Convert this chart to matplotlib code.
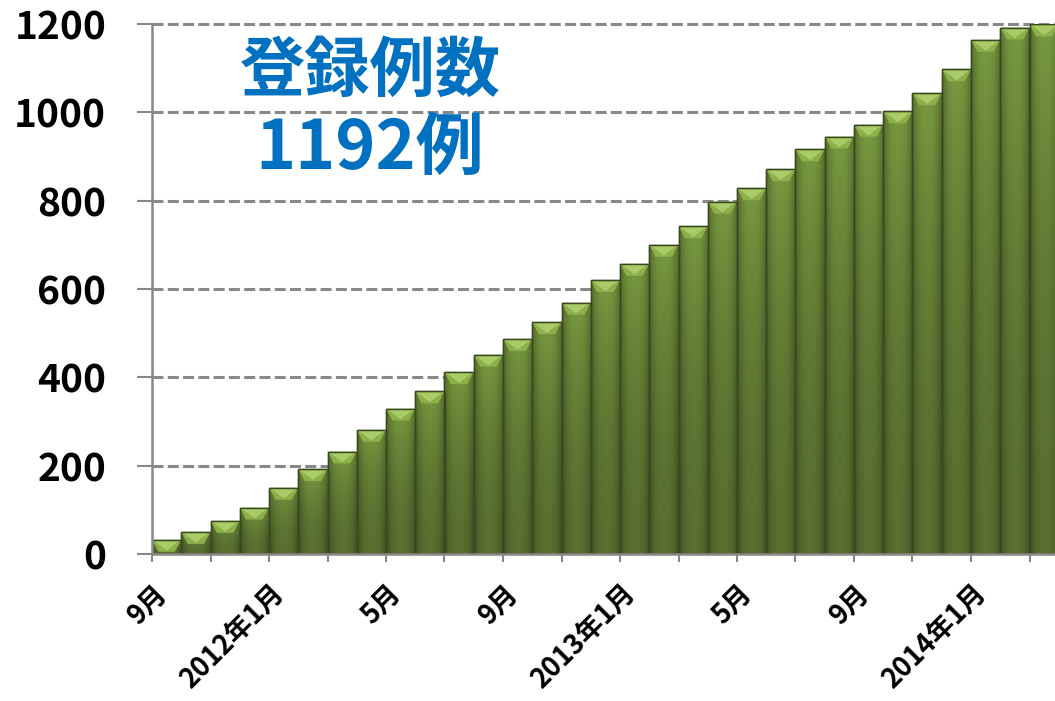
import numpy as np
import matplotlib
matplotlib.use('Agg')
import matplotlib.pyplot as plt
import matplotlib.transforms as mtransforms
from matplotlib.patches import Polygon

plt.rcParams['font.family'] = ['Noto Sans CJK JP', 'DejaVu Sans']

# 登録例数（月毎の累計） 2011年9月〜2014年3月
months = ['2011-09', '2011-10', '2011-11', '2011-12',
          '2012-01', '2012-02', '2012-03', '2012-04', '2012-05', '2012-06',
          '2012-07', '2012-08', '2012-09', '2012-10', '2012-11', '2012-12',
          '2013-01', '2013-02', '2013-03', '2013-04', '2013-05', '2013-06',
          '2013-07', '2013-08', '2013-09', '2013-10', '2013-11', '2013-12',
          '2014-01', '2014-02', '2014-03']
counts = [32, 50, 75, 105, 150, 192, 232, 281, 329, 368, 412, 451, 487,
          525, 569, 620, 657, 700, 742, 798, 828, 871, 916, 945, 972,
          1002, 1043, 1097, 1164, 1192, 1199]
label_idx = [0, 4, 8, 12, 16, 20, 24, 28]
label_txt = ['9月', '2012年1月', '5月', '9月', '2013年1月', '5月', '9月', '2014年1月']
yticks = [0, 200, 400, 600, 800, 1000, 1200]

fig = plt.figure(figsize=(10.55, 7.01), dpi=100)
ax = fig.add_axes([152 / 1055, 1 - 554 / 701, (1055 - 152) / 1055, (554 - 24) / 701])

x = np.arange(len(counts))
bars = ax.bar(x, counts, width=1.0, color='#5b7330', edgecolor='#3f4f24',
              linewidth=1.0, zorder=3)

# 立体風のグラデーション
nx, ny = 40, 64
u = np.linspace(-1, 1, nx)
v = np.linspace(0, 1, ny)[:, None]
side = 1 - 0.3 * np.abs(u) ** 2.5
base = np.array([0.35, 0.44, 0.19])
top = np.array([0.47, 0.60, 0.25])
for b in bars:
    bx, bw, bh = b.get_x(), b.get_width(), b.get_height()
    col = base + (top - base) * v[..., None] ** 2
    img = col * side[None, :, None]
    im = ax.imshow(np.clip(img, 0, 1), extent=(bx, bx + bw, 0, bh),
                   origin='lower', aspect='auto', zorder=3.1,
                   interpolation='bilinear')
    im.set_clip_path(b)
    bev = 27
    ax.add_patch(Polygon([(bx, bh), (bx + bw, bh), (bx + bw * 0.78, bh - bev),
                          (bx + bw * 0.22, bh - bev)],
                         closed=True, facecolor='#8db04a', edgecolor='none',
                         zorder=3.2))
    ax.add_patch(Polygon([(bx + 0.08, bh - 3), (bx + bw - 0.08, bh - 3),
                          (bx + bw / 2, bh - bev * 0.9)],
                         closed=True, facecolor='#a9cb68', edgecolor='none',
                         zorder=3.3))
    ax.add_patch(plt.Rectangle((bx, 0), bw, bh, facecolor='none',
                               edgecolor='#3a4822', linewidth=1.0, zorder=3.4))

ax.set_xlim(-0.5, -0.5 + 903 / 29.25)
ax.set_ylim(0, 1200)

ax.set_yticks(yticks)
ax.set_yticklabels([str(t) for t in yticks], fontsize=28, fontweight='bold')
ax.tick_params(axis='y', length=11, width=1.5, color='#888888', pad=22)

ax.set_xticks(np.arange(-0.5, len(counts), 2))
ax.set_xticklabels([])
ax.set_xticks(label_idx, minor=True)
ax.set_xticklabels(label_txt, minor=True, rotation=45, ha='right', va='top',
                   fontsize=19.5, fontweight='bold')
ax.tick_params(axis='x', which='major', length=6, width=1.5, color='#888888')
ax.tick_params(axis='x', which='minor', length=0, pad=18)
offset = mtransforms.ScaledTranslation(6 / 100, 0, fig.dpi_scale_trans)
for lab in ax.get_xticklabels(minor=True):
    lab.set_transform(lab.get_transform() + offset)

for s in ['top', 'right']:
    ax.spines[s].set_visible(False)
for s in ['left', 'bottom']:
    ax.spines[s].set_color('#888888')
    ax.spines[s].set_linewidth(1.8)
    ax.spines[s].set_zorder(4)

for t in yticks[1:]:
    ax.axhline(t, color='#888888', linewidth=2.2, linestyle=(0, (3.6, 1.4)),
               zorder=1, clip_on=False)

fig.text(370 / 1055, 1 - 71 / 701, '登録例数', color='#0070C0', fontsize=47,
         fontweight='bold', ha='center', va='center')
fig.text(370 / 1055, 1 - 149 / 701, '1192例', color='#0070C0', fontsize=49,
         fontweight='bold', ha='center', va='center')

fig.savefig('out.png', dpi=100)
